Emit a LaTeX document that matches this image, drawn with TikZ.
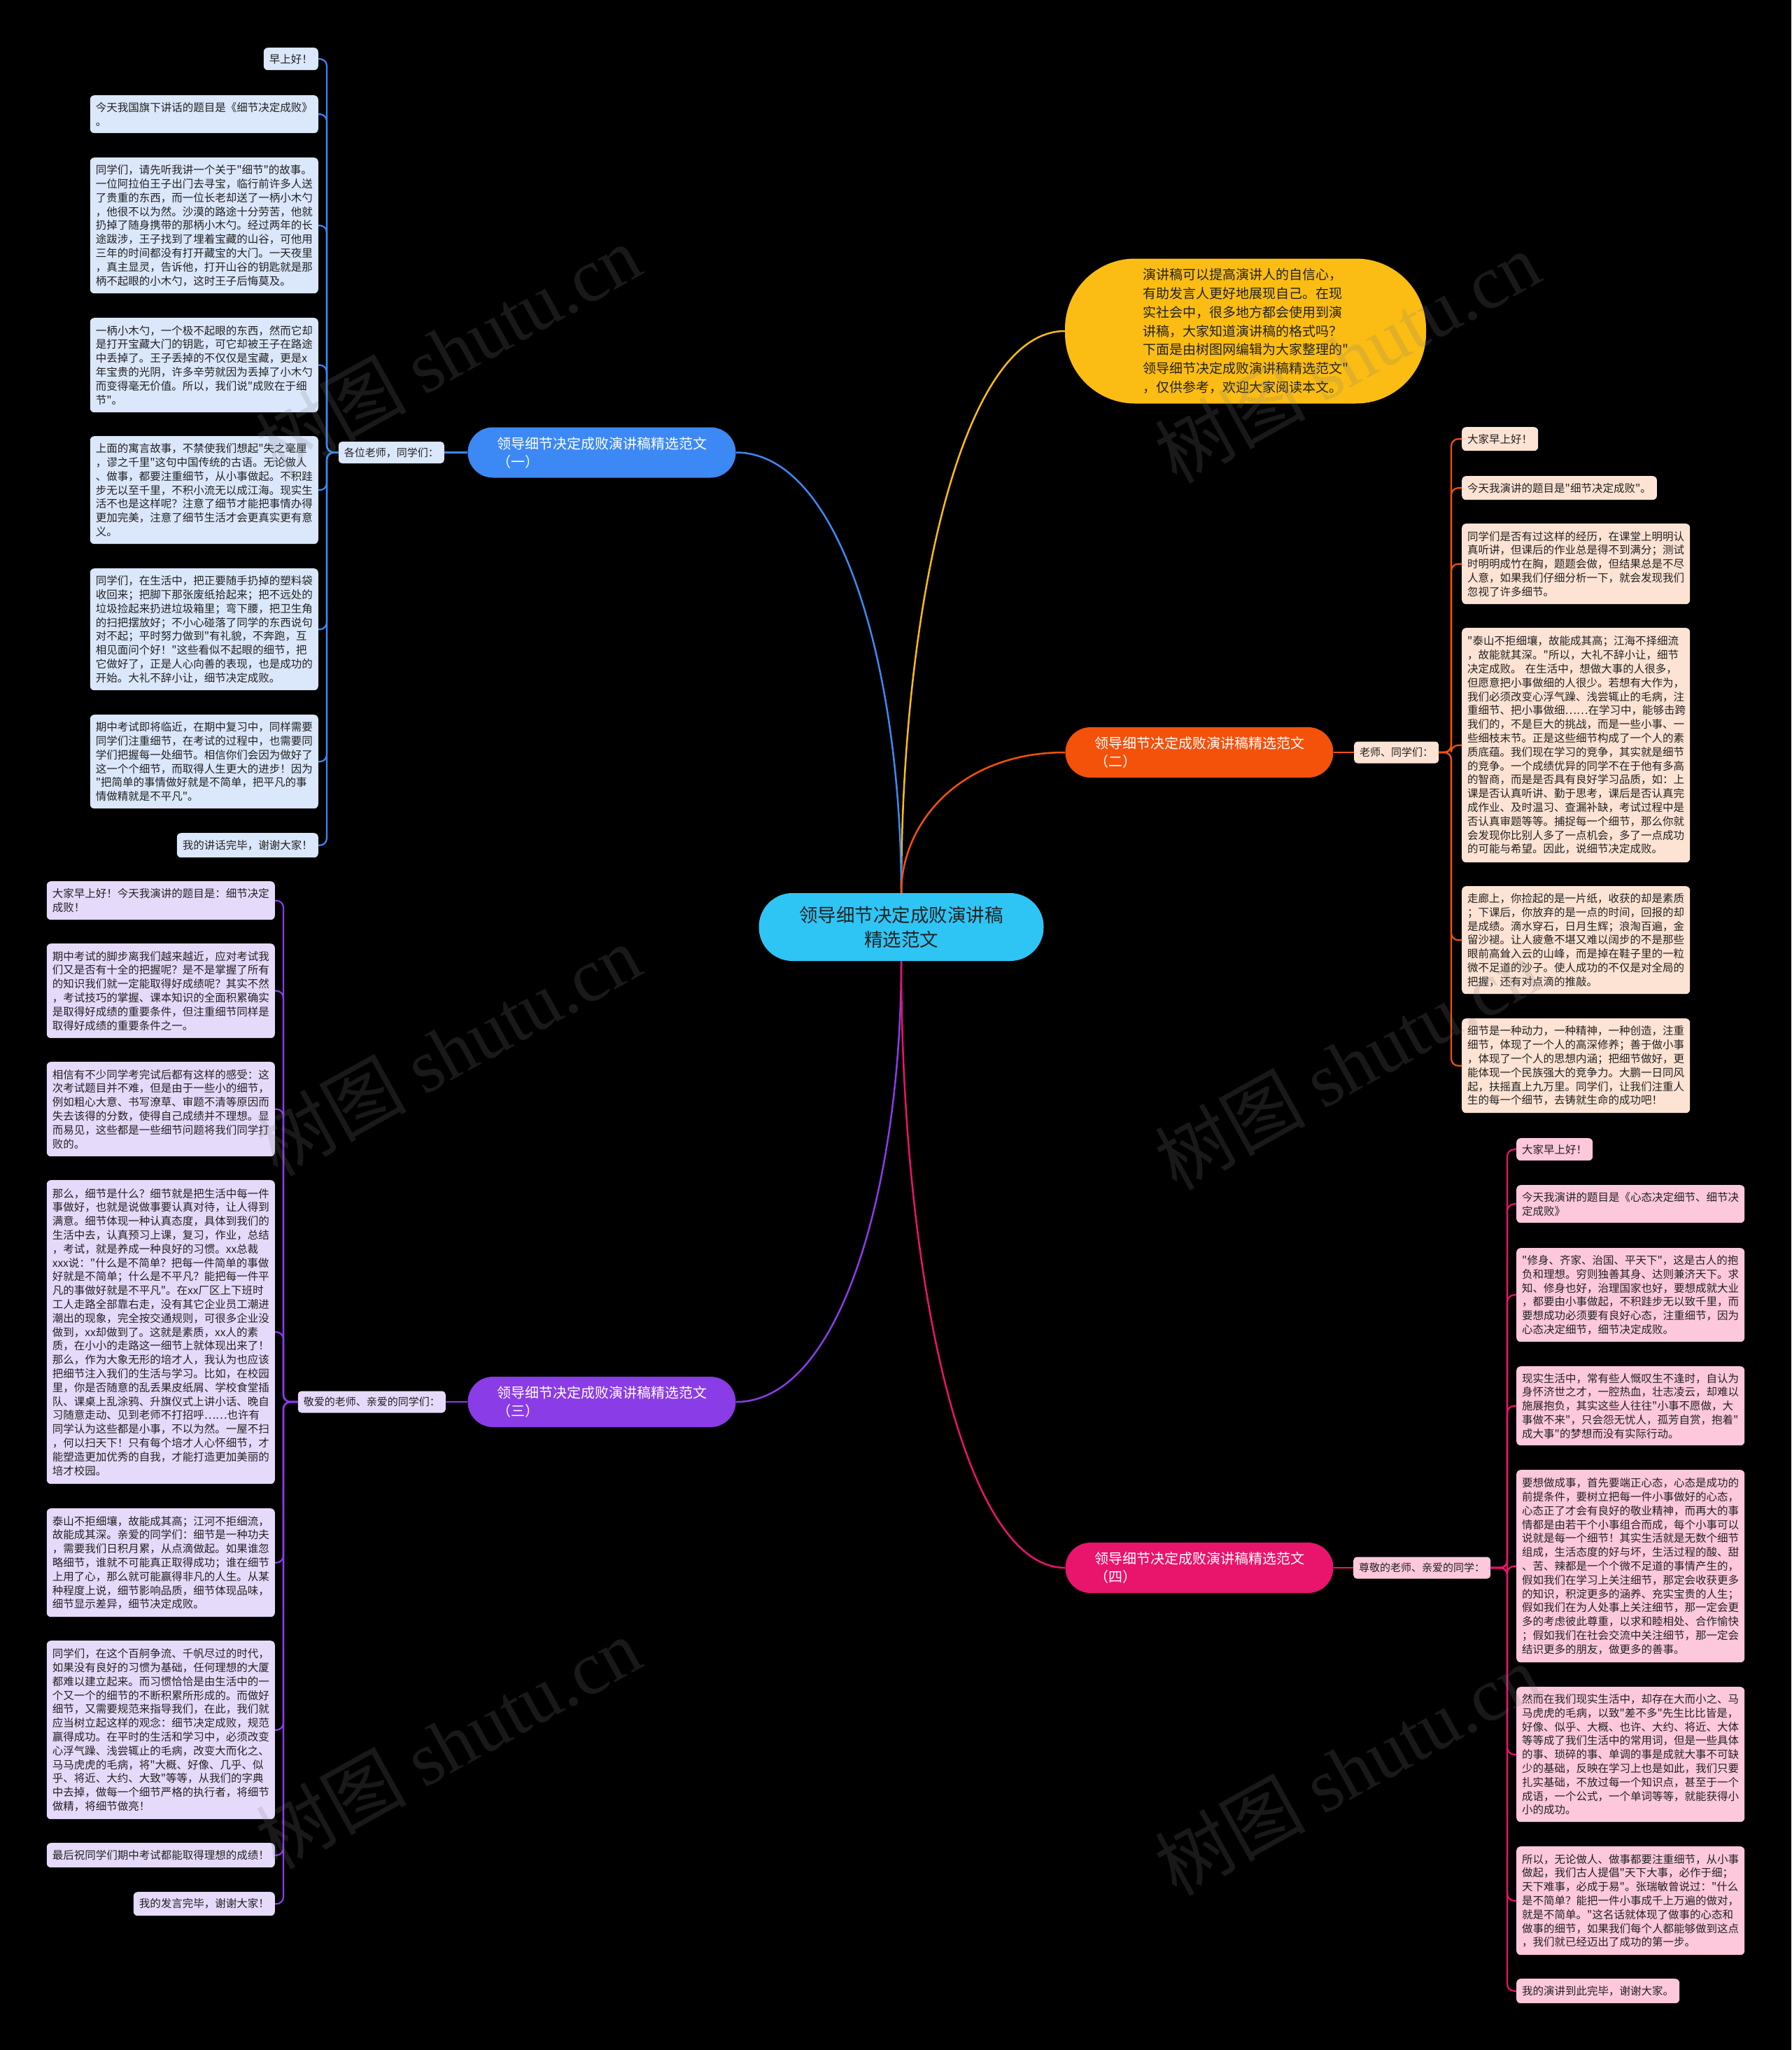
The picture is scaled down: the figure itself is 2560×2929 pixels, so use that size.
\documentclass[tikz,border=0pt]{standalone}
\usepackage{fontspec}
\setmainfont{Noto Sans CJK SC}[Ligatures=TeXOff]
\newfontfamily\wmlat{Liberation Serif}[Ligatures=TeXOff]
\usetikzlibrary{calc}
\definecolor{cC}{HTML}{2EC5F5}
\definecolor{cY}{HTML}{FBBD13}
\definecolor{cB}{HTML}{3C89F5}
\definecolor{cO}{HTML}{F4510B}
\definecolor{cP}{HTML}{8A3CE6}
\definecolor{cM}{HTML}{E9146C}
\definecolor{fB}{HTML}{DBE7FB}
\definecolor{fP}{HTML}{E6DAFB}
\definecolor{fO}{HTML}{FDE3D4}
\definecolor{fM}{HTML}{FDC8DC}
\definecolor{tx}{HTML}{222222}
\definecolor{wm}{HTML}{808080}
\tikzset{
  leaf/.style={rounded corners=6pt, inner xsep=8pt, inner ysep=4pt, align=left,
    font=\fontsize{15.5}{19.8}\selectfont, text=tx},
  wide/.style={text width=310pt},
  lfB/.style={leaf, fill=fB}, lfP/.style={leaf, fill=fP},
  lfO/.style={leaf, fill=fO}, lfM/.style={leaf, fill=fM},
  lab/.style={rounded corners=5pt, inner xsep=8pt, inner ysep=3pt, minimum height=31pt,
    font=\fontsize{15}{18}\selectfont, text=tx},
  branch/.style={rounded corners=36pt, minimum width=383pt, minimum height=72pt,
    align=left, text=white, font=\fontsize{20}{26}\selectfont},
  mainln/.style={line width=2.5pt},
  leafln/.style={line width=2.2pt, rounded corners=10pt},
  wmark/.style={rotate=29, text=wm, opacity=0.2, font=\fontsize{108}{108}\selectfont}
}
\begin{document}
\begin{tikzpicture}[x=1pt,y=-1pt]
\fill[black] (0,0) rectangle (2560,2929);
\useasboundingbox (0,0) rectangle (2560,2929);

% center and intro
\node[fill=cC, rounded corners=48pt, minimum width=407pt, minimum height=97pt, align=center,
  text=tx, font=\fontsize{26.5}{35}\selectfont] (C) at (1288,1324.5)
  {领导细节决定成败演讲稿\\精选范文};
\node[fill=cY, rounded corners=100pt, minimum width=516pt, minimum height=207pt, align=left,
  text=tx, font=\fontsize{19}{26.8}\selectfont] (Y) at (1780,473)
  {演讲稿可以提高演讲人的自信心，\\有助发言人更好地展现自己。在现\\实社会中，很多地方都会使用到演\\讲稿，大家知道演讲稿的格式吗？\\下面是由树图网编辑为大家整理的"\\领导细节决定成败演讲稿精选范文"\\，仅供参考，欢迎大家阅读本文。};

% branch nodes
\node[branch, fill=cB] (B1) at (860,646.5) {领导细节决定成败演讲稿精选范文\\（一）};
\node[branch, fill=cO] (B2) at (1714,1075) {领导细节决定成败演讲稿精选范文\\（二）};
\node[branch, fill=cP] (B3) at (860,2003) {领导细节决定成败演讲稿精选范文\\（三）};
\node[branch, fill=cM] (B4) at (1714,2240) {领导细节决定成败演讲稿精选范文\\（四）};

% labels
\node[lab, fill=fB, anchor=east] (Lab1) at (635,646.5) {各位老师，同学们：};
\node[lab, fill=fO, anchor=west] (Lab2) at (1935,1075) {老师、同学们：};
\node[lab, fill=fP, anchor=east] (Lab3) at (637,2003) {敬爱的老师、亲爱的同学们：};
\node[lab, fill=fM, anchor=west] (Lab4) at (1934,2240) {尊敬的老师、亲爱的同学：};

\coordinate (s1) at (467,646.5);
\coordinate (s2) at (2074,1075);
\coordinate (s3) at (405,2003);
\coordinate (s4) at (2154,2240);

% main curves
\draw[mainln, cY] (C.north) .. controls ($(C.north)!0.5!(C.north|-Y.west)$) and ($(C.north|-Y.west)!0.36!(Y.west)$) .. (Y.west);
\draw[mainln, cB] (C.north) .. controls ($(C.north)!0.5!(C.north|-B1.east)$) and ($(C.north|-B1.east)!0.36!(B1.east)$) .. (B1.east);
\draw[mainln, cO] (C.north) .. controls ($(C.north)!0.5!(C.north|-B2.west)$) and ($(C.north|-B2.west)!0.36!(B2.west)$) .. (B2.west);
\draw[mainln, cP] (C.south) .. controls ($(C.south)!0.5!(C.south|-B3.east)$) and ($(C.south|-B3.east)!0.36!(B3.east)$) .. (B3.east);
\draw[mainln, cM] (C.south) .. controls ($(C.south)!0.5!(C.south|-B4.west)$) and ($(C.south|-B4.west)!0.36!(B4.west)$) .. (B4.west);

\draw[leafln, cB] (B1.west) -- (Lab1.east);
\draw[leafln, cO] (B2.east) -- (Lab2.west);
\draw[leafln, cP] (B3.west) -- (Lab3.east);
\draw[leafln, cM] (B4.east) -- (Lab4.west);

% ---------- branch 1 leaves
\node[lfB, anchor=north east, minimum height=32pt] (L1a) at (455,68) {早上好！};
\node[lfB, wide, anchor=north east, minimum height=54pt] (L1b) at (455,136) {今天我国旗下讲话的题目是《细节决定成败》\\。};
\node[lfB, wide, anchor=north east, minimum height=194pt] (L1c) at (455,225) {同学们，请先听我讲一个关于"细节"的故事。\\一位阿拉伯王子出门去寻宝，临行前许多人送\\了贵重的东西，而一位长老却送了一柄小木勺\\，他很不以为然。沙漠的路途十分劳苦，他就\\扔掉了随身携带的那柄小木勺。经过两年的长\\途跋涉，王子找到了埋着宝藏的山谷，可他用\\三年的时间都没有打开藏宝的大门。一天夜里\\，真主显灵，告诉他，打开山谷的钥匙就是那\\柄不起眼的小木勺，这时王子后悔莫及。};
\node[lfB, wide, anchor=north east, minimum height=135pt] (L1d) at (455,454) {一柄小木勺，一个极不起眼的东西，然而它却\\是打开宝藏大门的钥匙，可它却被王子在路途\\中丢掉了。王子丢掉的不仅仅是宝藏，更是x\\年宝贵的光阴，许多辛劳就因为丢掉了小木勺\\而变得毫无价值。所以，我们说"成败在于细\\节"。};
\node[lfB, wide, anchor=north east, minimum height=154pt] (L1e) at (455,623) {上面的寓言故事，不禁使我们想起"失之毫厘\\，谬之千里"这句中国传统的古语。无论做人\\、做事，都要注重细节，从小事做起。不积跬\\步无以至千里，不积小流无以成江海。现实生\\活不也是这样呢？注意了细节才能把事情办得\\更加完美，注意了细节生活才会更真实更有意\\义。};
\node[lfB, wide, anchor=north east, minimum height=174pt] (L1f) at (455,812) {同学们，在生活中，把正要随手扔掉的塑料袋\\收回来；把脚下那张废纸拾起来；把不远处的\\垃圾捡起来扔进垃圾箱里；弯下腰，把卫生角\\的扫把摆放好；不小心碰落了同学的东西说句\\对不起；平时努力做到"有礼貌，不奔跑，互\\相见面问个好！"这些看似不起眼的细节，把\\它做好了，正是人心向善的表现，也是成功的\\开始。大礼不辞小让，细节决定成败。};
\node[lfB, wide, anchor=north east, minimum height=134pt] (L1g) at (455,1021) {期中考试即将临近，在期中复习中，同样需要\\同学们注重细节，在考试的过程中，也需要同\\学们把握每一处细节。相信你们会因为做好了\\这一个个细节，而取得人生更大的进步！因为\\"把简单的事情做好就是不简单，把平凡的事\\情做精就是不平凡"。};
\node[lfB, anchor=north east, minimum height=35pt] (L1h) at (455,1190) {我的讲话完毕，谢谢大家！};
\foreach \n in {L1a,L1b,L1c,L1d,L1e,L1f,L1g,L1h}
  \draw[leafln, cB] (Lab1.west) -- (s1) |- (\n.east);

% ---------- branch 3 leaves
\node[lfP, wide, anchor=north east, minimum height=55pt] (L3a) at (393,1259) {大家早上好！今天我演讲的题目是：细节决定\\成败！};
\node[lfP, wide, anchor=north east, minimum height=135pt] (L3b) at (393,1348) {期中考试的脚步离我们越来越近，应对考试我\\们又是否有十全的把握呢？是不是掌握了所有\\的知识我们就一定能取得好成绩呢？其实不然\\，考试技巧的掌握、课本知识的全面积累确实\\是取得好成绩的重要条件，但注重细节同样是\\取得好成绩的重要条件之一。};
\node[lfP, wide, anchor=north east, minimum height=135pt] (L3c) at (393,1517) {相信有不少同学考完试后都有这样的感受：这\\次考试题目并不难，但是由于一些小的细节，\\例如粗心大意、书写潦草、审题不清等原因而\\失去该得的分数，使得自己成绩并不理想。显\\而易见，这些都是一些细节问题将我们同学打\\败的。};
\node[lfP, wide, anchor=north east, minimum height=434pt] (L3d) at (393,1686) {那么，细节是什么？细节就是把生活中每一件\\事做好，也就是说做事要认真对待，让人得到\\满意。细节体现一种认真态度，具体到我们的\\生活中去，认真预习上课，复习，作业，总结\\，考试，就是养成一种良好的习惯。xx总裁\\xxx说："什么是不简单？把每一件简单的事做\\好就是不简单；什么是不平凡？能把每一件平\\凡的事做好就是不平凡"。在xx厂区上下班时\\工人走路全部靠右走，没有其它企业员工潮进\\潮出的现象，完全按交通规则，可很多企业没\\做到，xx却做到了。这就是素质，xx人的素\\质，在小小的走路这一细节上就体现出来了！\\那么，作为大象无形的培才人，我认为也应该\\把细节注入我们的生活与学习。比如，在校园\\里，你是否随意的乱丢果皮纸屑、学校食堂插\\队、课桌上乱涂鸦、升旗仪式上讲小话、晚自\\习随意走动、见到老师不打招呼……也许有\\同学认为这些都是小事，不以为然。一屋不扫\\，何以扫天下！只有每个培才人心怀细节，才\\能塑造更加优秀的自我，才能打造更加美丽的\\培才校园。};
\node[lfP, wide, anchor=north east, minimum height=155pt] (L3e) at (393,2155) {泰山不拒细壤，故能成其高；江河不拒细流，\\故能成其深。亲爱的同学们：细节是一种功夫\\，需要我们日积月累，从点滴做起。如果谁忽\\略细节，谁就不可能真正取得成功；谁在细节\\上用了心，那么就可能赢得非凡的人生。从某\\种程度上说，细节影响品质，细节体现品味，\\细节显示差异，细节决定成败。};
\node[lfP, wide, anchor=north east, minimum height=255pt] (L3f) at (393,2344) {同学们，在这个百舸争流、千帆尽过的时代，\\如果没有良好的习惯为基础，任何理想的大厦\\都难以建立起来。而习惯恰恰是由生活中的一\\个又一个的细节的不断积累所形成的。而做好\\细节，又需要规范来指导我们，在此，我们就\\应当树立起这样的观念：细节决定成败，规范\\赢得成功。在平时的生活和学习中，必须改变\\心浮气躁、浅尝辄止的毛病，改变大而化之、\\马马虎虎的毛病，将"大概、好像、几乎、似\\乎、将近、大约、大致"等等，从我们的字典\\中去掉，做每一个细节严格的执行者，将细节\\做精，将细节做亮！};
\node[lfP, wide, anchor=north east, minimum height=35pt] (L3g) at (393,2633) {最后祝同学们期中考试都能取得理想的成绩！};
\node[lfP, anchor=north east, minimum height=34pt] (L3h) at (393,2703) {我的发言完毕，谢谢大家！};
\foreach \n in {L3a,L3b,L3c,L3d,L3e,L3f,L3g,L3h}
  \draw[leafln, cP] (Lab3.west) -- (s3) |- (\n.east);

% ---------- branch 2 leaves
\node[lfO, anchor=north west, minimum height=34pt] (L2a) at (2089,610) {大家早上好！};
\node[lfO, anchor=north west, minimum height=34pt] (L2b) at (2089,680) {今天我演讲的题目是"细节决定成败"。};
\node[lfO, wide, anchor=north west, minimum height=115pt] (L2c) at (2089,748) {同学们是否有过这样的经历，在课堂上明明认\\真听讲，但课后的作业总是得不到满分；测试\\时明明成竹在胸，题题会做，但结果总是不尽\\人意，如果我们仔细分析一下，就会发现我们\\忽视了许多细节。};
\node[lfO, wide, anchor=north west, minimum height=335pt] (L2d) at (2089,897) {"泰山不拒细壤，故能成其高；江海不择细流\\，故能就其深。"所以，大礼不辞小让，细节\\决定成败。~在生活中，想做大事的人很多，\\但愿意把小事做细的人很少。若想有大作为，\\我们必须改变心浮气躁、浅尝辄止的毛病，注\\重细节、把小事做细……在学习中，能够击跨\\我们的，不是巨大的挑战，而是一些小事、一\\些细枝末节。正是这些细节构成了一个人的素\\质底蕴。我们现在学习的竞争，其实就是细节\\的竞争。一个成绩优异的同学不在于他有多高\\的智商，而是是否具有良好学习品质，如：上\\课是否认真听讲、勤于思考，课后是否认真完\\成作业、及时温习、查漏补缺，考试过程中是\\否认真审题等等。捕捉每一个细节，那么你就\\会发现你比别人多了一点机会，多了一点成功\\的可能与希望。因此，说细节决定成败。};
\node[lfO, wide, anchor=north west, minimum height=154pt] (L2e) at (2089,1266) {走廊上，你捡起的是一片纸，收获的却是素质\\；下课后，你放弃的是一点的时间，回报的却\\是成绩。滴水穿石，日月生辉；浪淘百遍，金\\留沙褪。让人疲惫不堪又难以阔步的不是那些\\眼前高耸入云的山峰，而是掉在鞋子里的一粒\\微不足道的沙子。使人成功的不仅是对全局的\\把握，还有对点滴的推敲。};
\node[lfO, wide, anchor=north west, minimum height=135pt] (L2f) at (2089,1455) {细节是一种动力，一种精神，一种创造，注重\\细节，体现了一个人的高深修养；善于做小事\\，体现了一个人的思想内涵；把细节做好，更\\能体现一个民族强大的竞争力。大鹏一日同风\\起，扶摇直上九万里。同学们，让我们注重人\\生的每一个细节，去铸就生命的成功吧！};
\foreach \n in {L2a,L2b,L2c,L2d,L2e,L2f}
  \draw[leafln, cO] (Lab2.east) -- (s2) |- (\n.west);

% ---------- branch 4 leaves
\node[lfM, anchor=north west, minimum height=32pt] (L4a) at (2167,1626) {大家早上好！};
\node[lfM, wide, anchor=north west, minimum height=54pt] (L4b) at (2167,1693) {今天我演讲的题目是《心态决定细节、细节决\\定成败》};
\node[lfM, wide, anchor=north west, minimum height=134pt] (L4c) at (2167,1783) {"修身、齐家、治国、平天下"，这是古人的抱\\负和理想。穷则独善其身、达则兼济天下。求\\知、修身也好，治理国家也好，要想成就大业\\，都要由小事做起，不积跬步无以致千里，而\\要想成功必须要有良好心态，注重细节，因为\\心态决定细节，细节决定成败。};
\node[lfM, wide, anchor=north west, minimum height=113pt] (L4d) at (2167,1952) {现实生活中，常有些人慨叹生不逢时，自认为\\身怀济世之才，一腔热血，壮志凌云，却难以\\施展抱负，其实这些人往往"小事不愿做，大\\事做不来"，只会怨无忧人，孤芳自赏，抱着"\\成大事"的梦想而没有实际行动。};
\node[lfM, wide, anchor=north west, minimum height=275pt] (L4e) at (2167,2100) {要想做成事，首先要端正心态，心态是成功的\\前提条件，要树立把每一件小事做好的心态，\\心态正了才会有良好的敬业精神，而再大的事\\情都是由若干个小事组合而成，每个小事可以\\说就是每一个细节！其实生活就是无数个细节\\组成，生活态度的好与坏，生活过程的酸、甜\\、苦、辣都是一个个微不足道的事情产生的，\\假如我们在学习上关注细节，那定会收获更多\\的知识，积淀更多的涵养、充实宝贵的人生；\\假如我们在为人处事上关注细节，那一定会更\\多的考虑彼此尊重，以求和睦相处、合作愉快\\；假如我们在社会交流中关注细节，那一定会\\结识更多的朋友，做更多的善事。};
\node[lfM, wide, anchor=north west, minimum height=193pt] (L4f) at (2167,2410) {然而在我们现实生活中，却存在大而小之、马\\马虎虎的毛病，以致"差不多"先生比比皆是，\\好像、似乎、大概、也许、大约、将近、大体\\等等成了我们生活中的常用词，但是一些具体\\的事、琐碎的事、单调的事是成就大事不可缺\\少的基础，反映在学习上也是如此，我们只要\\扎实基础，不放过每一个知识点，甚至于一个\\成语，一个公式，一个单词等等，就能获得小\\小的成功。};
\node[lfM, wide, anchor=north west, minimum height=155pt] (L4g) at (2167,2638) {所以，无论做人、做事都要注重细节，从小事\\做起，我们古人提倡"天下大事，必作于细；\\天下难事，必成于易"。张瑞敏曾说过："什么\\是不简单？能把一件小事成千上万遍的做对，\\就是不简单。"这名话就体现了做事的心态和\\做事的细节，如果我们每个人都能够做到这点\\，我们就已经迈出了成功的第一步。};
\node[lfM, anchor=north west, minimum height=35pt] (L4h) at (2167,2827) {我的演讲到此完毕，谢谢大家。};
\foreach \n in {L4a,L4b,L4c,L4d,L4e,L4f,L4g,L4h}
  \draw[leafln, cM] (Lab4.east) -- (s4) |- (\n.west);

% watermarks
\node[wmark] (W1) at (640,500) {树图 {\wmlat shutu.cn}};
\node[wmark] (W2) at (1925,510) {树图 {\wmlat shutu.cn}};
\node[wmark] (W3) at (640,1500) {树图 {\wmlat shutu.cn}};
\node[wmark] (W4) at (1925,1520) {树图 {\wmlat shutu.cn}};
\node[wmark] (W5) at (640,2490) {树图 {\wmlat shutu.cn}};
\node[wmark] (W6) at (1925,2528) {树图 {\wmlat shutu.cn}};
\end{tikzpicture}
\end{document}
